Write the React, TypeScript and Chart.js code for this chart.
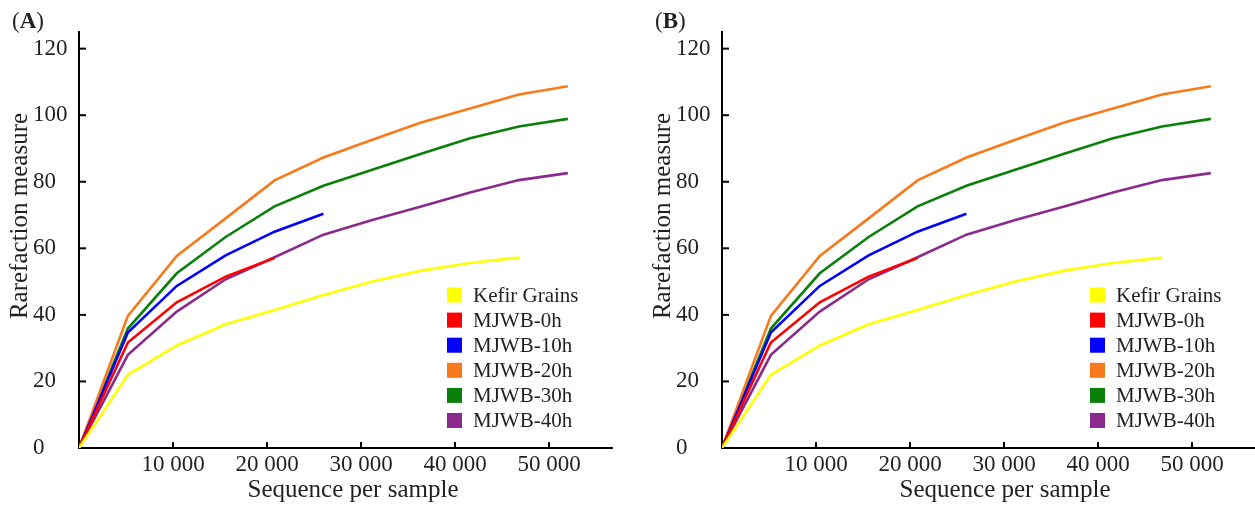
import React, { useEffect, useRef } from 'react';
import { Chart, registerables } from 'chart.js';

Chart.register(...registerables);

// ---- data ----
const sampleDepths = [0, 5200, 10400, 15600, 20800, 26000, 31200, 36400, 41600, 46800, 52000];
const seriesNames = ['Kefir Grains', 'MJWB-0h', 'MJWB-10h', 'MJWB-20h', 'MJWB-30h', 'MJWB-40h'];
const kefirGrains = [0, 22.0, 30.8, 37.2, 41.5, 46.0, 50.0, 53.3, 55.6, 57.2];
const mjwb0h = [0, 31.7, 43.8, 51.5, 57.1];
const mjwb10h = [0, 34.7, 48.7, 57.9, 65.0, 70.4];
const mjwb20h = [0, 39.7, 57.7, 69.0, 80.4, 87.3, 92.6, 97.8, 102.0, 106.2, 108.7];
const mjwb30h = [0, 35.9, 52.5, 63.4, 72.6, 78.8, 83.6, 88.4, 93.1, 96.6, 98.9];
const mjwb40h = [0, 28.0, 41.0, 50.7, 57.3, 64.1, 68.5, 72.6, 76.8, 80.5, 82.6];
const seriesValues = [kefirGrains, mjwb0h, mjwb10h, mjwb20h, mjwb30h, mjwb40h];
const seriesColors = ['#FFFF00', '#FF0000', '#0000FF', '#F87A1A', '#0A800A', '#8B2A8D'];
const yTickValues = [0, 20, 40, 60, 80, 100, 120];
const xTickValues = [10000, 20000, 30000, 40000, 50000];
const yMax = 125;
const xMax = 56700;

const SERIF = '"Liberation Serif", "Times New Roman", serif';
const TEXT = '#231f20';

const fmtThousands = (v: number) => String(v).replace(/\B(?=(\d{3})+(?!\d))/g, ' ');

type PanelProps = { letter: string; left: number; width: number; padRight: number; xTitleX: number };

function makeDecor(p: PanelProps) {
  return {
    id: 'decor',
    afterDraw(chart: any) {
      const { ctx, chartArea, scales } = chart;
      ctx.save();
      // inward ticks
      ctx.strokeStyle = '#000';
      ctx.lineWidth = 2;
      xTickValues.forEach((v) => {
        const px = scales.x.getPixelForValue(v);
        ctx.beginPath();
        ctx.moveTo(px, chartArea.bottom);
        ctx.lineTo(px, chartArea.bottom - 6);
        ctx.stroke();
      });
      yTickValues.forEach((v) => {
        if (v === 0) return;
        const py = scales.y.getPixelForValue(v);
        ctx.beginPath();
        ctx.moveTo(chartArea.left, py);
        ctx.lineTo(chartArea.left + 7, py);
        ctx.stroke();
      });
      // panel letter
      ctx.fillStyle = TEXT;
      ctx.textBaseline = 'alphabetic';
      ctx.textAlign = 'left';
      let lx = 12;
      ctx.font = `23px ${SERIF}`;
      ctx.fillText('(', lx, 28);
      lx += ctx.measureText('(').width;
      ctx.font = `bold 23px ${SERIF}`;
      ctx.fillText(p.letter, lx, 28);
      lx += ctx.measureText(p.letter).width;
      ctx.font = `23px ${SERIF}`;
      ctx.fillText(')', lx, 28);
      // axis titles
      ctx.font = `25px ${SERIF}`;
      ctx.textAlign = 'center';
      ctx.fillText('Sequence per sample', p.xTitleX, 497);
      ctx.save();
      ctx.translate(chartArea.left - 52, 216);
      ctx.rotate(-Math.PI / 2);
      ctx.fillText('Rarefaction measure', 0, 0);
      ctx.restore();
      // legend
      ctx.font = `21px ${SERIF}`;
      ctx.textAlign = 'left';
      ctx.textBaseline = 'middle';
      const lgX = chartArea.left + 368;
      const lgY = 295;
      chart.data.datasets.forEach((ds: any, i: number) => {
        const cy = lgY + i * 25.1;
        ctx.fillStyle = ds.borderColor;
        ctx.fillRect(lgX, cy - 7.5, 15, 15);
        ctx.fillStyle = TEXT;
        ctx.fillText(ds.label, lgX + 26, cy + 1);
      });
      ctx.restore();
    },
  };
}

function Panel(p: PanelProps) {
  const ref = useRef<HTMLCanvasElement | null>(null);
  useEffect(() => {
    if (!ref.current) return;
    const datasets = seriesNames.map((name, i) => ({
      label: name,
      data: seriesValues[i].map((v, j) => ({ x: sampleDepths[j], y: v })),
      borderColor: seriesColors[i],
      backgroundColor: seriesColors[i],
      borderWidth: 2.6,
      pointRadius: 0,
      tension: 0,
      fill: false,
    }));
    const chart = new Chart(ref.current, {
      type: 'line',
      data: { datasets },
      options: {
        animation: false,
        responsive: false,
        maintainAspectRatio: false,
        layout: { padding: { left: 33, right: p.padRight, top: 32, bottom: 0 } },
        plugins: { legend: { display: false }, tooltip: { enabled: false }, title: { display: false } },
        scales: {
          x: {
            type: 'linear',
            min: 0,
            max: xMax,
            grid: { display: false, drawTicks: false },
            border: { display: true, color: '#000', width: 2 },
            ticks: {
              autoSkip: false,
              maxRotation: 0,
              minRotation: 0,
              padding: 3,
              color: TEXT,
              font: { family: SERIF, size: 23 },
              callback: (v: any) => fmtThousands(Number(v)),
            },
            afterBuildTicks: (s: any) => {
              s.ticks = xTickValues.map((v) => ({ value: v }));
            },
            afterFit: (s: any) => {
              s.height = 62;
            },
          },
          y: {
            type: 'linear',
            min: 0,
            max: yMax,
            grid: { display: false, drawTicks: false },
            border: { display: true, color: '#000', width: 2 },
            ticks: {
              autoSkip: false,
              crossAlign: 'far',
              padding: 0,
              color: TEXT,
              font: { family: SERIF, size: 23 },
            },
            afterBuildTicks: (s: any) => {
              s.ticks = yTickValues.map((v) => ({ value: v }));
            },
            afterFit: (s: any) => {
              s.width = 46;
            },
          },
        },
      } as any,
      plugins: [makeDecor(p)],
    });
    return () => chart.destroy();
  }, []);
  return (
    <canvas
      ref={ref}
      width={p.width}
      height={510}
      style={{ position: 'absolute', left: p.left, top: 0, width: p.width, height: 510, display: 'block' }}
    />
  );
}

export default function App() {
  return (
    <div style={{ position: 'fixed', left: 0, top: 0, width: 1255, height: 510, background: '#fff', overflow: 'hidden' }}>
      <Panel letter="A" left={0} width={627} padRight={15} xTitleX={353} />
      <Panel letter="B" left={643} width={612} padRight={0} xTitleX={362} />
    </div>
  );
}
